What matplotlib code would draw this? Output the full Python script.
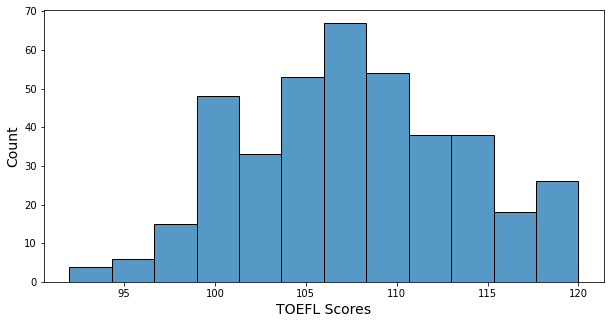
import matplotlib.pyplot as plt
import numpy as np

# histogram: 12 equal bins from 92 to 120
bin_lo = 92
bin_hi = 120
counts = [4, 6, 15, 48, 33, 53, 67, 54, 38, 38, 18, 26]

edges = np.linspace(bin_lo, bin_hi, len(counts) + 1)
widths = np.diff(edges)

fig = plt.figure(figsize=(610 / 72, 323 / 72), dpi=72)
ax = fig.add_axes([0.072, 0.127, 0.918, 0.842])

ax.bar(edges[:-1], counts, width=widths, align="edge",
       facecolor=(0.122, 0.467, 0.706, 0.75), edgecolor="black", linewidth=1.0)

ax.set_xlabel("TOEFL Scores", fontsize=14)
ax.set_ylabel("Count", fontsize=14)
ax.set_xticks([95, 100, 105, 110, 115, 120])
ax.set_yticks(range(0, 71, 10))
ax.tick_params(labelsize=10)

fig.savefig("out.png", dpi=72)
